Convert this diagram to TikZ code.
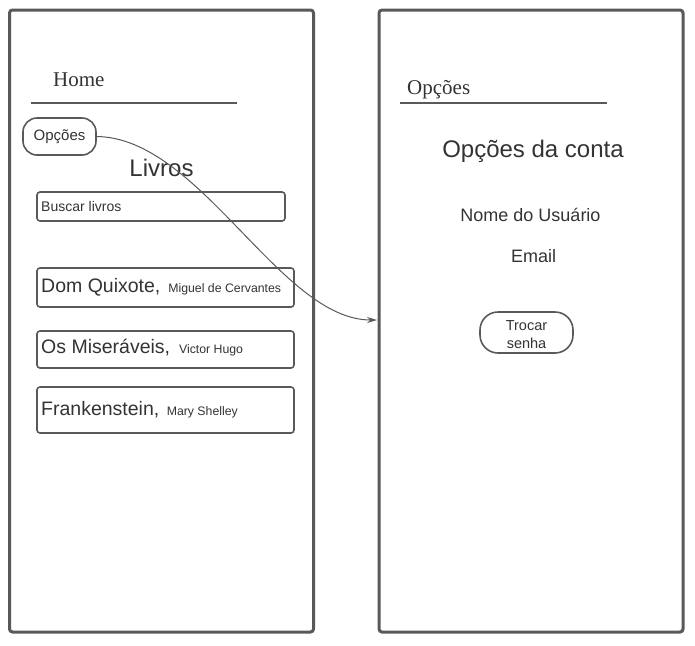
\documentclass[tikz,border=0pt]{standalone}
\usepackage{fontspec}
\setmainfont{Liberation Sans}
\newfontfamily\serifx{Liberation Serif}
\usetikzlibrary{arrows.meta}
\definecolor{frame}{HTML}{595959}
\definecolor{txt}{HTML}{333333}
\newcommand{\fs}[1]{\fontsize{#1}{#1}\selectfont}
\begin{document}
\begin{tikzpicture}[x=1pt,y=-1pt,
  screen/.style={draw=frame, line width=3pt, rounded corners=3pt, anchor=north west, inner sep=0pt, outer sep=0pt},
  box/.style={draw=frame, line width=1.6pt, rounded corners=3pt, anchor=north west, inner sep=0pt, outer sep=0pt},
  pill/.style={draw=frame, line width=1.6pt, inner sep=0pt, outer sep=0pt},
  rule/.style={draw=frame, line width=2pt},
  lbl/.style={text=txt, inner sep=0pt, anchor=base west},
  ctr/.style={text=txt, inner sep=0pt, anchor=base},
  conn/.style={draw=frame, line width=1pt, -{Stealth[length=10pt,width=6pt]}}
]
\useasboundingbox (0,0) rectangle (695,645);
% screens
\node[screen, minimum width=304pt, minimum height=622pt] (left) at (9.5,10) {};
\node[screen, minimum width=304pt, minimum height=622pt] (right) at (379,10) {};
% left screen
\node[lbl, font=\serifx\fs{21}] (home) at (53,86.5) {Home};
\draw[rule] (31,102.5) -- (237,102.5);
\node[pill, rounded corners=14pt, minimum width=73pt, minimum height=37pt] (opc) at (59.5,136.5) {};
\node[text=txt, inner sep=0pt, font=\fs{15}] (opct) at (opc.center) {Opções};
\node[ctr, font=\fs{24}] (livros) at (161.5,176) {Livros};
\node[box, minimum width=248pt, minimum height=29pt] (busca) at (37,192) {};
\node[lbl, font=\fs{14}] (buscat) at (41,211) {Buscar livros};
\node[box, minimum width=257pt, minimum height=39pt] (b1) at (37,268) {};
\node[lbl, font=\fs{19.5}] (b1t) at (41,292) {Dom Quixote,\hspace{2.5pt} {\fs{12.3}Miguel de Cervantes}};
\node[box, minimum width=257pt, minimum height=37pt] (b2) at (37,331) {};
\node[lbl, font=\fs{19.5}] (b2t) at (41,353.5) {Os Miseráveis,\hspace{3.5pt} {\fs{12.3}Victor Hugo}};
\node[box, minimum width=257pt, minimum height=46pt] (b3) at (37,387) {};
\node[lbl, font=\fs{19.5}] (b3t) at (41,415) {Frankenstein,\hspace{2pt} {\fs{12.3}Mary Shelley}};
% right screen
\node[lbl, font=\serifx\fs{21}] (optitle) at (407,94) {Opções};
\draw[rule] (400,102.5) -- (606.5,102.5);
\node[ctr, font=\fs{24}] (conta) at (533,157) {Opções da conta};
\node[ctr, font=\fs{18}] (nome) at (530.5,221.5) {Nome do Usuário};
\node[ctr, font=\fs{18}] (email) at (533.5,262.3) {Email};
\node[pill, rounded corners=18pt, minimum width=93pt, minimum height=41pt] (trocar) at (526.5,332.5) {};
\node[text=txt, inner sep=0pt, align=center, font=\fontsize{14.5}{18}\selectfont] (trocart) at ([yshift=-2.5pt]trocar.center) {Trocar\\senha};
% connector
\coordinate (arrend) at ([xshift=-2pt,yshift=1pt]right.west);
\draw[conn] (opc.east) .. controls (200,137) and (280,320) .. (arrend);
\end{tikzpicture}
\end{document}
